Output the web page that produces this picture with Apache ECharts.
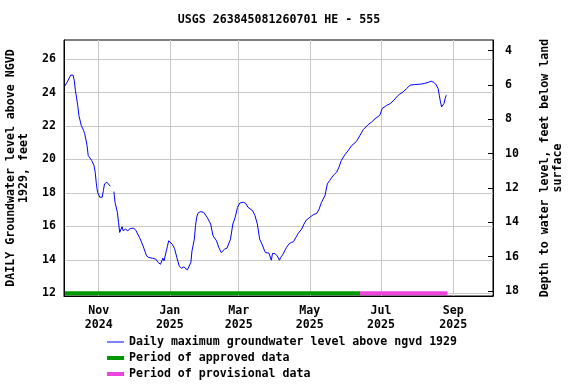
<!DOCTYPE html>
<html><head><meta charset="utf-8">
<script src="https://cdn.jsdelivr.net/npm/echarts@6/dist/echarts.min.js"></script>
<style>html,body{margin:0;padding:0;background:#fff}#c{width:576px;height:384px}</style>
</head><body><div id="c"></div>
<script>
const titleText = 'USGS 263845081260701 HE - 555';
const seriesNames = ['Daily maximum groundwater level above ngvd 1929', 'Period of approved data', 'Period of provisional data'];
const dates = ['2024-10-03','2024-10-05','2024-10-08','2024-10-10','2024-10-11','2024-10-12','2024-10-14','2024-10-15','2024-10-17','2024-10-19','2024-10-20','2024-10-22','2024-10-23','2024-10-26','2024-10-28','2024-10-29','2024-10-30','2024-10-31',
'2024-11-02','2024-11-04','2024-11-05','2024-11-06','2024-11-08','2024-11-09','2024-11-11','2024-11-12','2024-11-14','2024-11-15','2024-11-17','2024-11-18','2024-11-19','2024-11-21','2024-11-22','2024-11-24','2024-11-26','2024-11-28',
'2024-12-01','2024-12-03','2024-12-06','2024-12-09','2024-12-12','2024-12-14','2024-12-17','2024-12-20','2024-12-22','2024-12-24','2024-12-25','2024-12-26','2024-12-27','2024-12-29','2024-12-30','2024-12-31',
'2025-01-03','2025-01-05','2025-01-06','2025-01-07','2025-01-09','2025-01-11','2025-01-13','2025-01-14','2025-01-16','2025-01-17','2025-01-19','2025-01-20','2025-01-22','2025-01-23','2025-01-24','2025-01-25','2025-01-27','2025-01-30',
'2025-02-02','2025-02-05','2025-02-07','2025-02-10','2025-02-12','2025-02-14','2025-02-15','2025-02-17','2025-02-19','2025-02-22','2025-02-24','2025-02-26','2025-02-28',
'2025-03-02','2025-03-05','2025-03-07','2025-03-09','2025-03-13','2025-03-15','2025-03-17','2025-03-19','2025-03-21','2025-03-23','2025-03-24','2025-03-27','2025-03-29','2025-03-30',
'2025-04-01','2025-04-03','2025-04-05','2025-04-06','2025-04-08','2025-04-11','2025-04-13','2025-04-15','2025-04-17','2025-04-19','2025-04-21','2025-04-24','2025-04-26','2025-04-28',
'2025-05-01','2025-05-04','2025-05-07','2025-05-09','2025-05-11','2025-05-14','2025-05-16','2025-05-18','2025-05-21','2025-05-24','2025-05-26','2025-05-28','2025-05-31',
'2025-06-03','2025-06-06','2025-06-10','2025-06-13','2025-06-16','2025-06-20','2025-06-23','2025-06-26','2025-06-30',
'2025-07-02','2025-07-06','2025-07-09','2025-07-12','2025-07-15','2025-07-17','2025-07-20','2025-07-23','2025-07-26','2025-07-30',
'2025-08-04','2025-08-07','2025-08-11','2025-08-13','2025-08-15','2025-08-17','2025-08-19','2025-08-20','2025-08-21','2025-08-22','2025-08-24','2025-08-25','2025-08-26'];
const levels = [24.39,24.63,25.04,25.04,24.74,24.14,23.24,22.64,22.04,21.74,21.54,20.84,20.24,19.94,19.64,19.24,18.54,18.04,
17.74,17.74,18.14,18.54,18.64,18.54,18.40,null,18.08,17.44,16.84,16.24,15.64,15.98,15.74,15.84,15.74,15.87,
15.90,15.74,15.34,14.84,14.24,14.14,14.10,14.04,13.84,13.74,13.78,14.10,13.94,14.54,14.84,15.14,
14.94,14.68,14.58,14.14,13.64,13.50,13.58,13.50,13.40,13.44,13.84,14.54,15.24,16.04,16.54,16.78,16.88,16.84,
16.54,16.14,15.44,15.14,14.74,14.44,14.44,14.64,14.70,15.24,16.14,16.54,17.14,
17.40,17.44,17.38,17.14,16.94,16.64,16.14,15.24,14.94,14.58,14.44,14.40,13.98,14.38,
14.38,14.24,13.98,14.14,14.34,14.74,14.94,15.04,15.08,15.34,15.58,15.84,16.14,16.38,
16.54,16.70,16.78,17.04,17.44,17.84,18.54,18.74,19.04,19.24,19.54,19.94,20.28,
20.54,20.84,21.08,21.44,21.80,22.08,22.24,22.44,22.64,
23.04,23.24,23.34,23.54,23.78,23.90,24.04,24.24,24.44,24.48,
24.50,24.54,24.62,24.68,24.62,24.50,24.24,23.84,23.44,23.14,23.34,23.64,23.84];
const approvedPeriod = ['2024-10-03', '2025-06-13'];
const provisionalPeriod = ['2025-06-13', '2025-08-27'];
const periodLevel = 12;
const xTickDates = ['2024-11-01','2025-01-01','2025-03-01','2025-05-01','2025-07-01','2025-09-01'];
const leftTicks = [12,14,16,18,20,22,24,26];
const rightTicks = [4,6,8,10,12,14,16,18];
const xRange = ['2024-10-02T06:00:00Z', '2025-10-05T01:00:00Z'];
const leftRange = [11.84, 27.14];
const rightRange = [3.38, 18.29];
const monthNames = ['Jan','Feb','Mar','Apr','May','Jun','Jul','Aug','Sep','Oct','Nov','Dec'];

const ts = s => Date.parse(s.length === 10 ? s + 'T00:00:00Z' : s);
const FONT = "'DejaVu Sans Mono', monospace";
const FS = 11.6;
const txt = {fontFamily: FONT, fontWeight: 'bold', fontSize: FS, color: '#000'};
const legendWidths = [1, 4, 4];
const colors = ['#0000ff', '#009900', '#ee44dd'];

const mainData = dates.map((d, i) => [ts(d), levels[i]]);
const chart = echarts.init(document.getElementById('c'), null, {renderer: 'canvas'});
chart.setOption({
  animation: false,
  backgroundColor: '#fff',
  title: {text: titleText, left: 279, top: 14, textAlign: 'center', padding: 0,
    textStyle: Object.assign({}, txt)},
  grid: {left: 64, right: 83, top: 40, bottom: 88, show: true, borderColor: '#000', borderWidth: 1,
    containLabel: false, outerBoundsMode: 'none'},
  legend: {orient: 'vertical', left: 105, top: 336, itemWidth: 17, itemHeight: 10, itemGap: 4, padding: 0,
    itemStyle: {opacity: 0},
    textStyle: Object.assign({}, txt),
    data: seriesNames.map((n, i) => ({name: n, itemStyle: {opacity: 0}, lineStyle: {width: legendWidths[i], color: colors[i], cap: 'butt'}}))},
  xAxis: {type: 'value', min: ts(xRange[0]), max: ts(xRange[1]),
    axisLine: {show: true, lineStyle: {color: '#000', width: 1}},
    axisTick: {show: false, customValues: xTickDates.map(ts)},
    splitLine: {show: true, lineStyle: {color: '#c8c8c8', width: 1}},
    axisLabel: Object.assign({customValues: xTickDates.map(ts), margin: 8, lineHeight: 14,
      formatter: v => { const d = new Date(v); return monthNames[d.getUTCMonth()] + '\n' + d.getUTCFullYear(); }}, txt)
  },
  yAxis: [
    {type: 'value', min: leftRange[0], max: leftRange[1], position: 'left',
      name: 'DAILY Groundwater level above NGVD\n1929, feet', nameLocation: 'middle', nameRotate: 90, nameGap: 34,
      nameTextStyle: Object.assign({lineHeight: 12.5, align: 'center'}, txt),
      axisLine: {show: true, lineStyle: {color: '#000'}},
      axisTick: {show: false, customValues: leftTicks},
      splitLine: {show: true, lineStyle: {color: '#c8c8c8', width: 1}},
      axisLabel: Object.assign({customValues: leftTicks, margin: 8}, txt)
    },
    {type: 'value', min: rightRange[0], max: rightRange[1], position: 'right', inverse: true,
      name: 'Depth to water level, feet below land\nsurface', nameLocation: 'middle', nameRotate: 90, nameGap: 46,
      nameTextStyle: Object.assign({lineHeight: 12.5, align: 'center'}, txt),
      axisLine: {show: true, lineStyle: {color: '#000'}},
      axisTick: {show: true, inside: true, length: 5, customValues: rightTicks, lineStyle: {color: '#000'}},
      splitLine: {show: false},
      axisLabel: Object.assign({customValues: rightTicks, margin: 12}, txt)
    }
  ],
  series: [
    {name: seriesNames[0], type: 'line', data: mainData, yAxisIndex: 0, symbol: 'none', connectNulls: false,
      lineStyle: {color: colors[0], width: 1}, itemStyle: {color: colors[0]}, z: 3},
    {name: seriesNames[1], type: 'line', data: approvedPeriod.map(d => [ts(d), periodLevel]), yAxisIndex: 0, symbol: 'none',
      lineStyle: {color: colors[1], width: 4}, itemStyle: {color: colors[1]}, z: 2},
    {name: seriesNames[2], type: 'line', data: provisionalPeriod.map(d => [ts(d), periodLevel]), yAxisIndex: 0, symbol: 'none',
      lineStyle: {color: colors[2], width: 4}, itemStyle: {color: colors[2]}, z: 2}
  ]
});
</script></body></html>
